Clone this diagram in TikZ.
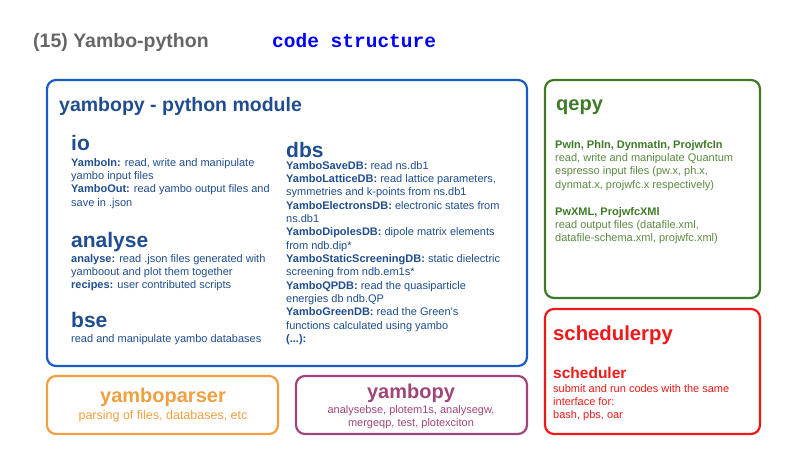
\documentclass[tikz,border=0pt]{standalone}
\usepackage{fontspec}
\setmainfont{Liberation Sans}
\setmonofont{Liberation Mono}
\definecolor{bbox}{HTML}{1D5BC4}
\definecolor{btxt}{HTML}{1F4D8F}
\definecolor{gbox}{HTML}{3F7A26}
\definecolor{gtxt}{HTML}{5A8A40}
\definecolor{rr}{HTML}{F01818}
\definecolor{oo}{HTML}{F0A040}
\definecolor{pp}{HTML}{A0457A}
\begin{document}
\begin{tikzpicture}[x=1pt,y=-1pt,
  box/.style={draw,line width=2.2pt,rounded corners=9pt},
  ln/.style={anchor=base west,inner sep=0pt,font=\fontsize{11}{13}\selectfont},
  hd/.style={anchor=base west,inner sep=0pt,font=\fontsize{21}{24}\selectfont\bfseries}]
\useasboundingbox (0,0) rectangle (800,450);
\node[anchor=base west,inner sep=0pt,text=black!60,font=\fontsize{19.5}{22}\selectfont\bfseries] (t1) at (33,47) {(15) Yambo-python};
\node[anchor=base west,inner sep=0pt,text=blue,font=\fontsize{19.5}{22}\selectfont\ttfamily\bfseries] (t2) at (272,47) {code structure};
% boxes
\draw[box,bbox] (47,80) rectangle (527,366);
\draw[box,gbox] (545,80) rectangle (760,298);
\draw[box,rr] (545,309) rectangle (760,434);
\draw[box,oo] (47,376) rectangle (278,434);
\draw[box,pp] (296,376) rectangle (527,434);
% yambopy module
\begin{scope}[text=btxt]
\node[anchor=base west,inner sep=0pt,font=\fontsize{19.5}{22}\selectfont\bfseries] (ym) at (59,111) {yambopy - python module};
\node[hd] (io) at (71,150) {io};
\foreach \t [count=\i] in {{\textbf{YamboIn:} read, write and manipulate},{yambo input files},{\textbf{YamboOut:} read yambo output files and},{save in .json}}
  \node[ln] at (71,{166+(\i-1)*13.4}) {\t};
\node[hd] (an) at (71,247) {analyse};
\foreach \t [count=\i] in {{\textbf{analyse:} read .json files generated with},{yamboout and plot them together},{\textbf{recipes:} user contributed scripts}}
  \node[ln] at (71,{262+(\i-1)*13.4}) {\t};
\node[hd] (bse) at (71,327) {bse};
\node[ln] at (71,342) {read and manipulate yambo databases};
\node[hd] (dbs) at (286,157) {dbs};
\foreach \t [count=\i] in {{\textbf{YamboSaveDB:} read ns.db1},{\textbf{YamboLatticeDB:} read lattice parameters,},{symmetries and k-points from ns.db1},{\textbf{YamboElectronsDB:} electronic states from},{ns.db1},{\textbf{YamboDipolesDB:} dipole matrix elements},{from ndb.dip*},{\textbf{YamboStaticScreeningDB:} static dielectric},{screening from ndb.em1s*},{\textbf{YamboQPDB:} read the quasiparticle},{energies db ndb.QP},{\textbf{YamboGreenDB:} read the Green's},{functions calculated using yambo},{\textbf{(...):}}}
  \node[ln] at (286,{169+(\i-1)*13.35}) {\t};
\end{scope}
% qepy
\node[anchor=base west,inner sep=0pt,text=gbox,font=\fontsize{20}{22}\selectfont\bfseries] (qe) at (556,110) {qepy};
\foreach \t [count=\i] in {{\textcolor{gbox}{\textbf{PwIn, PhIn, DynmatIn, ProjwfcIn}}},{read, write and manipulate Quantum},{espresso input files (pw.x, ph.x,},{dynmat.x, projwfc.x respectively)},{},{\textcolor{gbox}{\textbf{PwXML, ProjwfcXMl}}},{read output files (datafile.xml,},{datafile-schema.xml, projwfc.xml)}}
  \node[ln,text=gtxt] at (555,{148+(\i-1)*13.4}) {\t};
% schedulerpy
\node[anchor=base west,inner sep=0pt,text=rr,font=\fontsize{20.3}{24}\selectfont\bfseries] (sc) at (553,340) {schedulerpy};
\node[anchor=base west,inner sep=0pt,text=rr,font=\fontsize{15.5}{17}\selectfont\bfseries] (sc2) at (553,378) {scheduler};
\foreach \t [count=\i] in {{submit and run codes with the same},{interface for:},{bash, pbs, oar}}
  \node[ln,text=rr] at (553,{392+(\i-1)*13.4}) {\t};
% yamboparser
\node[inner sep=0pt,text=oo,font=\fontsize{20}{22}\selectfont\bfseries] (yp) at (163,397) {yamboparser};
\node[inner sep=0pt,text=oo,font=\fontsize{12.5}{14}\selectfont] (yp2) at (163,416) {parsing of files, databases, etc};
% yambopy bottom
\node[inner sep=0pt,text=pp,font=\fontsize{20}{22}\selectfont\bfseries] (yb) at (411,393) {yambopy};
\node[inner sep=0pt,text=pp,align=center,font=\fontsize{11}{13.4}\selectfont] (yb2) at (411,417) {analysebse, plotem1s, analysegw,\\mergeqp, test, plotexciton};
\end{tikzpicture}
\end{document}
